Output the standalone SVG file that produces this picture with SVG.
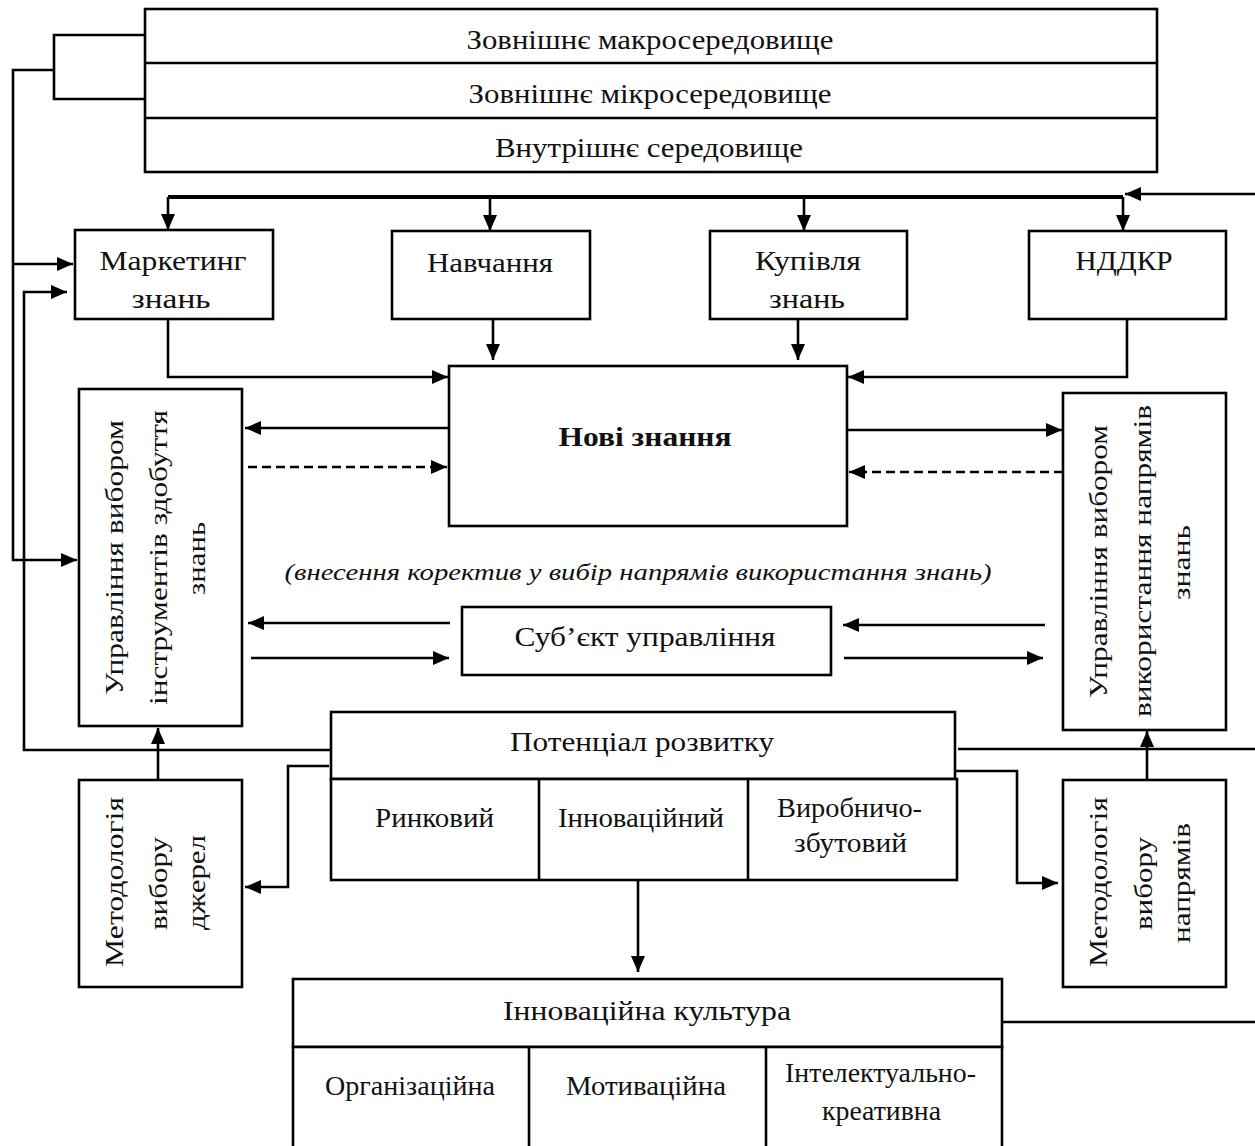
<svg xmlns="http://www.w3.org/2000/svg" width="1255" height="1146" viewBox="0 0 1255 1146">
<defs>
<marker id="ah" markerUnits="userSpaceOnUse" markerWidth="16" markerHeight="14" viewBox="0 0 16 14" refX="16" refY="7" orient="auto">
<path d="M0,0 L16,7 L0,14 z" fill="#000"/>
</marker>
</defs>
<style>
.box{fill:#fff;stroke:#000;stroke-width:2.6}
.ln{fill:none;stroke:#000;stroke-width:2.6}
.c{fill:none;stroke:#000;stroke-width:2.6}
.ca{fill:none;stroke:#000;stroke-width:2.6;marker-end:url(#ah)}
.dash{stroke-dasharray:9 5}
.bus{fill:none;stroke:#000;stroke-width:4}
text{font-family:"Liberation Serif","Times New Roman",serif;font-size:27px;fill:#111;text-anchor:middle}
.r{font-size:26px}
.b{font-weight:bold}
.it{font-style:italic;font-size:23px}
</style>
<rect width="1255" height="1146" fill="#fff"/>

<g id="environment">
<rect class="box" x="145" y="9" width="1012" height="163"/>
<line class="ln" x1="145" y1="63" x2="1157" y2="63"/>
<line class="ln" x1="145" y1="118" x2="1157" y2="118"/>
<text x="650" y="49" textLength="367" lengthAdjust="spacingAndGlyphs">Зовнішнє макросередовище</text>
<text x="650" y="103" textLength="363" lengthAdjust="spacingAndGlyphs">Зовнішнє мікросередовище</text>
<text x="649" y="157" textLength="308" lengthAdjust="spacingAndGlyphs">Внутрішнє середовище</text>
</g>

<g id="marketing">
<rect class="box" x="75" y="230" width="198" height="89"/>
<text x="173" y="270" textLength="147" lengthAdjust="spacingAndGlyphs">Маркетинг</text>
<text x="171" y="308" textLength="79" lengthAdjust="spacingAndGlyphs">знань</text>
</g>
<g id="training">
<rect class="box" x="392" y="231" width="198" height="88"/>
<text x="490" y="272" textLength="126" lengthAdjust="spacingAndGlyphs">Навчання</text>
</g>
<g id="purchase">
<rect class="box" x="710" y="231" width="197" height="88"/>
<text x="808" y="270" textLength="106" lengthAdjust="spacingAndGlyphs">Купівля</text>
<text x="807" y="308" textLength="76" lengthAdjust="spacingAndGlyphs">знань</text>
</g>
<g id="rnd">
<rect class="box" x="1029" y="231" width="197" height="88"/>
<text x="1124" y="270" textLength="97" lengthAdjust="spacingAndGlyphs">НДДКР</text>
</g>

<g id="new-knowledge">
<rect class="box" x="449" y="366" width="398" height="160"/>
<text class="b" x="645" y="446" textLength="173" lengthAdjust="spacingAndGlyphs">Нові знання</text>
</g>

<g id="mgmt-acquisition">
<rect class="box" x="79" y="389" width="163" height="337"/>
<text class="r" transform="translate(123,557.5) rotate(-90)" textLength="275" lengthAdjust="spacingAndGlyphs">Управління вибором</text>
<text class="r" transform="translate(167,557.5) rotate(-90)" textLength="295" lengthAdjust="spacingAndGlyphs">інструментів здобуття</text>
<text class="r" transform="translate(205,558.5) rotate(-90)" textLength="73" lengthAdjust="spacingAndGlyphs">знань</text>
</g>

<g id="mgmt-usage">
<rect class="box" x="1063" y="393" width="163" height="337"/>
<text class="r" transform="translate(1107,561.5) rotate(-90)" textLength="273" lengthAdjust="spacingAndGlyphs">Управління вибором</text>
<text class="r" transform="translate(1151,561) rotate(-90)" textLength="312" lengthAdjust="spacingAndGlyphs">використання напрямів</text>
<text class="r" transform="translate(1190,562.5) rotate(-90)" textLength="75" lengthAdjust="spacingAndGlyphs">знань</text>
</g>

<g id="note">
<text class="it" x="638" y="580" textLength="707" lengthAdjust="spacingAndGlyphs">(внесення коректив у вибір напрямів використання знань)</text>
</g>

<g id="subject">
<rect class="box" x="462" y="607" width="369" height="68"/>
<text x="645" y="646" textLength="261" lengthAdjust="spacingAndGlyphs">Суб’єкт управління</text>
</g>

<g id="potential">
<rect class="box" x="331" y="712" width="624" height="67"/>
<rect class="box" x="331" y="779" width="626" height="101"/>
<line class="ln" x1="539" y1="779" x2="539" y2="880"/>
<line class="ln" x1="748" y1="779" x2="748" y2="880"/>
<text x="642" y="751" textLength="264" lengthAdjust="spacingAndGlyphs">Потенціал розвитку</text>
<text x="434.5" y="827" textLength="119" lengthAdjust="spacingAndGlyphs">Ринковий</text>
<text x="641" y="827" textLength="166" lengthAdjust="spacingAndGlyphs">Інноваційний</text>
<text x="849.5" y="817" textLength="145" lengthAdjust="spacingAndGlyphs">Виробничо-</text>
<text x="850.5" y="852" textLength="113" lengthAdjust="spacingAndGlyphs">збутовий</text>
</g>

<g id="method-sources">
<rect class="box" x="79" y="780" width="163" height="207"/>
<text class="r" transform="translate(123,882) rotate(-90)" textLength="170" lengthAdjust="spacingAndGlyphs">Методологія</text>
<text class="r" transform="translate(167,883.5) rotate(-90)" textLength="93" lengthAdjust="spacingAndGlyphs">вибору</text>
<text class="r" transform="translate(205,882.5) rotate(-90)" textLength="95" lengthAdjust="spacingAndGlyphs">джерел</text>
</g>

<g id="method-directions">
<rect class="box" x="1063" y="780" width="163" height="207"/>
<text class="r" transform="translate(1107,882) rotate(-90)" textLength="170" lengthAdjust="spacingAndGlyphs">Методологія</text>
<text class="r" transform="translate(1152,883.5) rotate(-90)" textLength="93" lengthAdjust="spacingAndGlyphs">вибору</text>
<text class="r" transform="translate(1190,883) rotate(-90)" textLength="120" lengthAdjust="spacingAndGlyphs">напрямів</text>
</g>

<g id="culture">
<rect class="box" x="293" y="979" width="709" height="68"/>
<rect class="box" x="293" y="1047" width="709" height="110"/>
<line class="ln" x1="529" y1="1047" x2="529" y2="1150"/>
<line class="ln" x1="766" y1="1047" x2="766" y2="1150"/>
<text x="647" y="1020" textLength="288" lengthAdjust="spacingAndGlyphs">Інноваційна культура</text>
<text x="410" y="1095" textLength="170" lengthAdjust="spacingAndGlyphs">Організаційна</text>
<text x="646" y="1095" textLength="160" lengthAdjust="spacingAndGlyphs">Мотиваційна</text>
<text x="880.5" y="1082" textLength="191" lengthAdjust="spacingAndGlyphs">Інтелектуально-</text>
<text x="881.5" y="1120" textLength="119" lengthAdjust="spacingAndGlyphs">креативна</text>
</g>

<g id="connectors">
<path class="c" d="M145,35 H54 V99 H145"/>
<path class="ca" d="M54,70 H13 V560 H77"/>
<path class="ca" d="M13,264 H73"/>
<path class="ca" d="M331,750 H24 V292 H67"/>
<path class="bus" d="M168,197 H1123"/>
<path class="ca" d="M168,197 V230"/>
<path class="ca" d="M490,197 V231"/>
<path class="ca" d="M804,197 V231"/>
<path class="ca" d="M1123,197 V231"/>
<path class="ca" d="M1255,194 H1125"/>
<path class="ca" d="M168,319 V377 H448"/>
<path class="ca" d="M493,319 V360"/>
<path class="ca" d="M798,319 V360"/>
<path class="ca" d="M1127,319 V377 H848"/>
<path class="ca" d="M448,428 H245"/>
<path class="ca dash" d="M248,467 H447"/>
<path class="ca" d="M847,430 H1062"/>
<path class="ca dash" d="M1063,472 H849"/>
<path class="ca" d="M450,623 H248"/>
<path class="ca" d="M251,658 H449"/>
<path class="ca" d="M1045,625 H843"/>
<path class="ca" d="M844,658 H1043"/>
<path class="ca" d="M329,766 H288 V887 H245"/>
<path class="c" d="M958,749 H1255"/>
<path class="ca" d="M955,771 H1017 V883 H1058"/>
<path class="ca" d="M158,780 V728"/>
<path class="ca" d="M1147,780 V731"/>
<path class="ca" d="M638,880 V972"/>
<path class="c" d="M1003,1022 H1255"/>
</g>
</svg>
